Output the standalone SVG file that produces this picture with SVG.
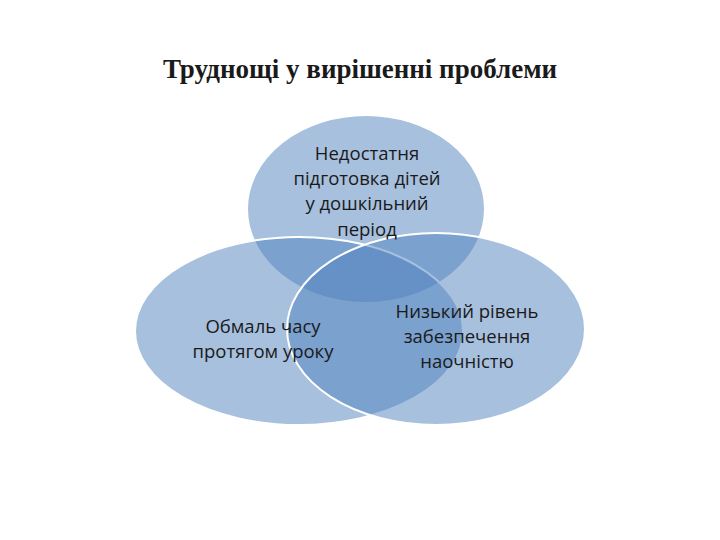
<svg xmlns="http://www.w3.org/2000/svg" width="720" height="540" viewBox="0 0 720 540">
<style>
.c{fill:#4f81bd;fill-opacity:0.5;stroke:#fff;stroke-width:2}
.t{font-family:"Open Sans","DejaVu Sans",sans-serif;font-size:18.5px;fill:#1a1a1a;text-anchor:middle}
</style>
<rect width="720" height="540" fill="#fff"/>
<text x="360" y="78" text-anchor="middle" font-family="Liberation Serif,serif" font-weight="bold" font-size="27" fill="#1a1a1a">Труднощі у вирішенні проблеми</text>
<g id="n1"><ellipse class="c" cx="366" cy="209" rx="119" ry="94"/></g>
<g id="n2"><ellipse class="c" cx="299" cy="331" rx="164" ry="94"/></g>
<g id="n3"><ellipse class="c" cx="436" cy="329" rx="149" ry="96"/></g>
<g id="labels">
<text class="t" x="367" y="160">Недостатня</text>
<text class="t" x="367" y="185">підготовка дітей</text>
<text class="t" x="367" y="210">у дошкільний</text>
<text class="t" x="367" y="236">період</text>
<text class="t" x="263" y="333">Обмаль часу</text>
<text class="t" x="263" y="358">протягом уроку</text>
<text class="t" x="467" y="318">Низький рівень</text>
<text class="t" x="467" y="343">забезпечення</text>
<text class="t" x="467" y="368">наочністю</text>
</g>
<g id="connectors"></g>
</svg>
